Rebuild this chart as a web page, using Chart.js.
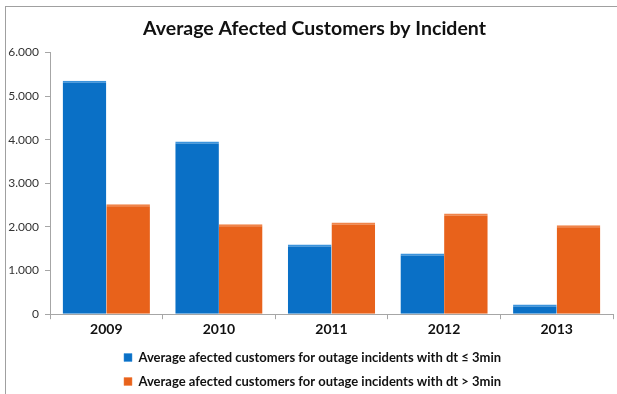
<!DOCTYPE html>
<html>
<head>
<meta charset="utf-8">
<script src="https://cdn.jsdelivr.net/npm/chart.js@4"></script>
<style>
  html, body { margin: 0; padding: 0; background: #fff; }
  #wrap {
    position: absolute; left: 0; top: 0; width: 617px; height: 394px;
  }
  #frame {
    position: absolute; left: 5px; top: 6px; right: 0; bottom: 0;
    border-left: 1px solid #a0a0a0; border-top: 1px solid #a0a0a0;
    pointer-events: none;
  }
</style>
</head>
<body>
<div id="wrap">
  <canvas id="incidentChart" width="617" height="394"></canvas>
  <div id="frame"></div>
</div>
<script>
// data
const years = ['2009', '2010', '2011', '2012', '2013'];
const shortOutages = [5350, 3960, 1600, 1390, 220];   // dt <= 3min
const longOutages = [2520, 2060, 2100, 2310, 2040];   // dt > 3min
const yTicks = [0, 1000, 2000, 3000, 4000, 5000, 6000];

const BLUE = '#0a70c6';
const ORANGE = '#e8621b';

function fmt(v) {
    if (v === 0) return '0';
    return (v / 1000).toFixed(3); // 1000 -> "1.000"
}

// nudge title and legend so they centre over the framed area, like the original
const boxShift = {
    id: 'boxShift',
    afterLayout(chart) {
        if (chart.titleBlock) chart.titleBlock.left += 16;
        if (chart.legend) {
            chart.legend.left += 6;
            chart.legend.right += 6;
        }
    }
};

const ctx = document.getElementById('incidentChart').getContext('2d');

const chart = new Chart(ctx, {
    type: 'bar',
    data: {
        labels: years,
        datasets: [{
            label: 'Average afected customers for outage incidents with dt \u2264 3min',
            data: shortOutages,
            backgroundColor: BLUE,
            borderColor: '#3b93dc',
            borderWidth: { top: 2, left: 0, right: 0, bottom: 0 },
            borderSkipped: false
        }, {
            label: 'Average afected customers for outage incidents with dt > 3min',
            data: longOutages,
            backgroundColor: ORANGE,
            borderColor: '#f0844a',
            borderWidth: { top: 2, left: 0, right: 0, bottom: 0 },
            borderSkipped: false
        }]
    },
    plugins: [boxShift],
    options: {
        responsive: false,
        animation: false,
        layout: { padding: { left: 0, right: 4, top: 0, bottom: -4 } },
        datasets: {
            bar: { categoryPercentage: 0.775, barPercentage: 1.0 }
        },
        plugins: {
            title: {
                display: true,
                text: 'Average Afected Customers by Incident',
                color: '#111',
                font: { family: 'Lato', size: 19.5, weight: 'bold' },
                padding: { top: 17, bottom: 12 }
            },
            legend: {
                position: 'bottom',
                labels: {
                    color: '#111',
                    font: { family: 'Lato', size: 13, weight: 'bold' },
                    boxWidth: 8,
                    boxHeight: 8,
                    padding: 11
                }
            },
            tooltip: { enabled: false }
        },
        scales: {
            x: {
                grid: {
                    drawOnChartArea: false,
                    drawTicks: true,
                    tickLength: 5,
                    color: '#a6a6a6'
                },
                border: { color: '#a6a6a6' },
                ticks: {
                    color: '#111',
                    font: { family: 'Lato', size: 14, weight: 'bold' },
                    padding: 2
                }
            },
            y: {
                min: 0,
                max: 6000,
                afterBuildTicks: axis => {
                    axis.ticks = yTicks.map(v => ({ value: v }));
                },
                afterFit: axis => { axis.width = 50; },
                grid: {
                    drawOnChartArea: false,
                    drawTicks: true,
                    tickLength: 5,
                    color: '#a6a6a6'
                },
                border: { color: '#a6a6a6' },
                ticks: {
                    color: '#333',
                    font: { family: 'Lato', size: 12 },
                    padding: 6,
                    callback: v => fmt(v)
                }
            }
        }
    }
});
</script>
</body>
</html>
